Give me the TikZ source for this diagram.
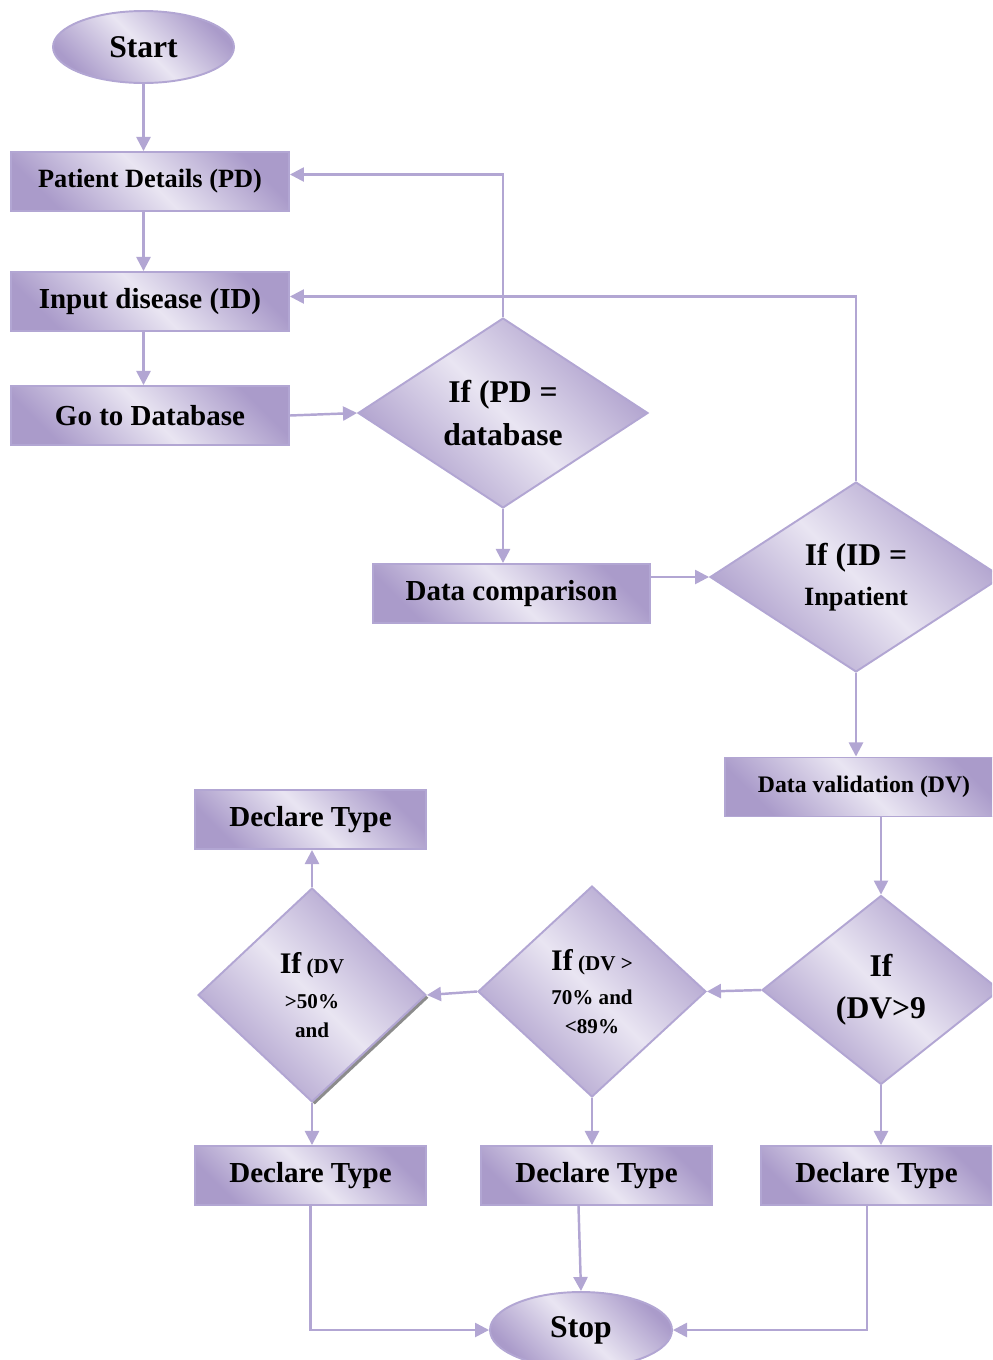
\documentclass[tikz,border=0pt]{standalone}
\usepackage{fontspec}
\setmainfont{Liberation Serif}
\usetikzlibrary{shapes.geometric, arrows.meta, shadows}
\definecolor{lavline}{HTML}{B2A6D3}
\definecolor{lavdark}{HTML}{AA9BCA}
\definecolor{lavlight}{HTML}{E9E5F2}
\tikzset{
  lavfill/.style={left color=lavdark, right color=lavdark, middle color=lavlight, shading angle=135},
  procbox/.style={rectangle, draw=lavline, line width=1.1pt, lavfill, minimum height=1.18cm, minimum width=5.56cm, inner sep=0pt, font=\fontsize{16.5pt}{20pt}\selectfont\bfseries},
  typebox/.style={procbox, minimum width=4.62cm},
  terminal/.style={ellipse, draw=lavline, line width=1.1pt, lavfill, minimum width=3.62cm, minimum height=1.44cm, inner sep=0pt, font=\fontsize{18pt}{22pt}\selectfont\bfseries},
  decision/.style={diamond, draw=lavline, line width=1.1pt, lavfill, inner sep=0pt},
  qtext/.style={align=center, font=\bfseries},
  flowline/.style={draw=lavline, line width=1.4pt, -{Triangle[length=8pt,width=8pt]}}
}
\newcommand{\smallq}{\fontsize{12pt}{16.5pt}\selectfont}
\begin{document}
\begin{tikzpicture}[x=0.02cm, y=-0.02cm]
  \useasboundingbox (0,0) rectangle (992,1360);
  \clip (0,0) rectangle (992,1360);

  % left column
  \node[terminal] (start) at (143.5,47) {Start};
  \node[procbox, font=\fontsize{15pt}{18pt}\selectfont\bfseries] (pd) at (150,181.5) {Patient Details (PD)};
  \node[procbox] (id) at (150,301.5) {Input disease (ID)};
  \node[procbox] (go) at (150,415.5) {Go to Database};

  % checks
  \node[decision, minimum width=5.8cm, minimum height=3.8cm,
    label={[qtext, name=d1t, font=\fontsize{18pt}{24pt}\selectfont\bfseries]center:If (PD =\\database}] (d1) at (503,413) {};
  \node[procbox, minimum width=5.54cm] (dc) at (511.5,593.5) {Data comparison};
  \node[decision, minimum width=5.84cm, minimum height=3.8cm,
    label={[qtext, name=d2t, font=\fontsize{15pt}{23pt}\selectfont\bfseries]center:{\fontsize{18pt}{23pt}\selectfont If (ID =}\\Inpatient}] (d2) at (856,577) {};
  \node[procbox, font=\fontsize{13.5pt}{16pt}\selectfont\bfseries] (dv) at (864,787) {Data validation (DV)};

  % validation levels
  \node[decision, minimum width=4.76cm, minimum height=3.78cm,
    label={[qtext, name=d3t, font=\fontsize{18pt}{24pt}\selectfont\bfseries]center:If\\(DV>9}] (d3) at (881,990) {};
  \node[decision, minimum width=4.56cm, minimum height=4.22cm,
    label={[qtext, name=d4t, font=\smallq\bfseries]center:{\fontsize{17pt}{20pt}\selectfont If} (DV >\\[3pt]70\% and\\<89\%}] (d4) at (592,991.5) {};
  \node[decision, minimum width=4.56cm, minimum height=4.28cm,
    drop shadow={shadow xshift=1.6pt, shadow yshift=-1.6pt, fill=black!45, opacity=1},
    label={[qtext, name=d5t, font=\smallq\bfseries]center:{\fontsize{17pt}{20pt}\selectfont If} (DV\\[3pt]>50\%\\and}] (d5) at (312,995) {};

  \node[typebox] (dtop) at (310.5,819.5) {Declare Type};
  \node[typebox] (dl) at (310.5,1175.5) {Declare Type};
  \node[typebox] (dm) at (596.5,1175.5) {Declare Type};
  \node[typebox] (dr) at (876.5,1175.5) {Declare Type};
  \node[terminal, minimum width=3.64cm, minimum height=1.52cm] (stop) at (581,1330) {Stop};

  % connectors
  \draw[flowline] (start.south) -- (start.south |- pd.north);
  \draw[flowline] (start.south |- pd.south) -- (start.south |- id.north);
  \draw[flowline] (start.south |- id.south) -- (start.south |- go.north);
  \draw[flowline] (go.east) -- (d1.west);
  \draw[flowline] (d1.north) |- ([yshift=0.14cm]pd.east);
  \draw[flowline] (d1.south) -- (d1.south |- dc.north);
  \draw[flowline] (dc.east |- d2.west) -- (d2.west);
  \draw[flowline] (d2.north) |- ([yshift=0.1cm]id.east);
  \draw[flowline] (d2.south) -- (d2.south |- dv.north);
  \draw[flowline] (d3.north |- dv.south) -- (d3.north);
  \draw[flowline] (d3.west) -- (d4.east);
  \draw[flowline] (d4.west) -- (d5.east);
  \draw[flowline] (d5.north) -- (d5.north |- dtop.south);
  \draw[flowline] (d5.south) -- (d5.south |- dl.north);
  \draw[flowline] (d4.south) -- (d4.south |- dm.north);
  \draw[flowline] (d3.south) -- (d3.south |- dr.north);
  \draw[flowline] (dl.south) |- (stop.west);
  \draw[flowline] ([xshift=-0.36cm]dm.south) -- (stop.north);
  \draw[flowline] ([xshift=-0.19cm]dr.south) |- (stop.east);
\end{tikzpicture}
\end{document}
